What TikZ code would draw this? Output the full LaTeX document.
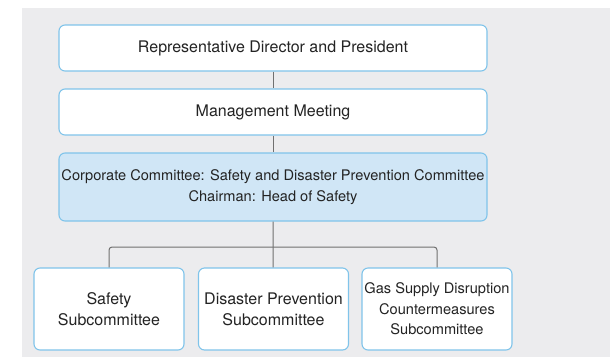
\documentclass[tikz,border=0pt]{standalone}
\usepackage{fontspec}
\setmainfont{TeX Gyre Heros}
\usepackage{xcolor}
\usetikzlibrary{positioning, calc}
\definecolor{bggray}{RGB}{236,236,238}
\definecolor{boxline}{RGB}{128,196,234}
\definecolor{boxfill}{RGB}{208,230,246}
\definecolor{connline}{RGB}{112,112,112}
\definecolor{txt}{RGB}{35,35,35}
\begin{document}
\begin{tikzpicture}[
  x=1pt, y=-1pt,
  font=\fontsize{16}{21}\selectfont, text=txt,
  org/.style={rectangle, rounded corners=6pt, draw=boxline, line width=1.1pt,
              fill=white, minimum width=428pt, minimum height=46pt,
              inner sep=1pt, align=center},
  cmte/.style={org, fill=boxfill, minimum height=68pt,
               font=\fontsize{14.6}{21}\selectfont},
  sub/.style={org, minimum width=150pt, minimum height=82pt},
  conn/.style={draw=connline, line width=1pt}
]
\useasboundingbox (0,0) rectangle (610,357);
\fill[bggray] (22,8) rectangle (610,357);
%% nodes
\node[org]  (o_pres) at (273,48)  {Representative Director and President};
\node[org]  (o_meet) at (273,112) {Management Meeting};
\node[cmte] (o_cmte) at (273,187) {Corporate Committee: Safety and Disaster Prevention Committee\\
                                    Chairman: Head of Safety};
\node[sub]  (o_safe) at (109,309) {Safety\\Subcommittee};
\node[sub]  (o_dis)  at (273.5,309) {Disaster Prevention\\Subcommittee};
\node[sub, font=\fontsize{14.6}{20.5}\selectfont]
            (o_gas)  at (437,309) {Gas Supply Disruption\\Countermeasures\\Subcommittee};
%% branch point
\coordinate (split) at (o_cmte.south |- 0,247);
%% connectors
\draw[conn] (o_pres) -- (o_meet);
\draw[conn] (o_meet) -- (o_cmte);
\draw[conn] (o_cmte) -- (split) -- (o_dis);
\draw[conn, rounded corners=3pt] (o_safe.north) |- (split) -| (o_gas.north);
\end{tikzpicture}
\end{document}
